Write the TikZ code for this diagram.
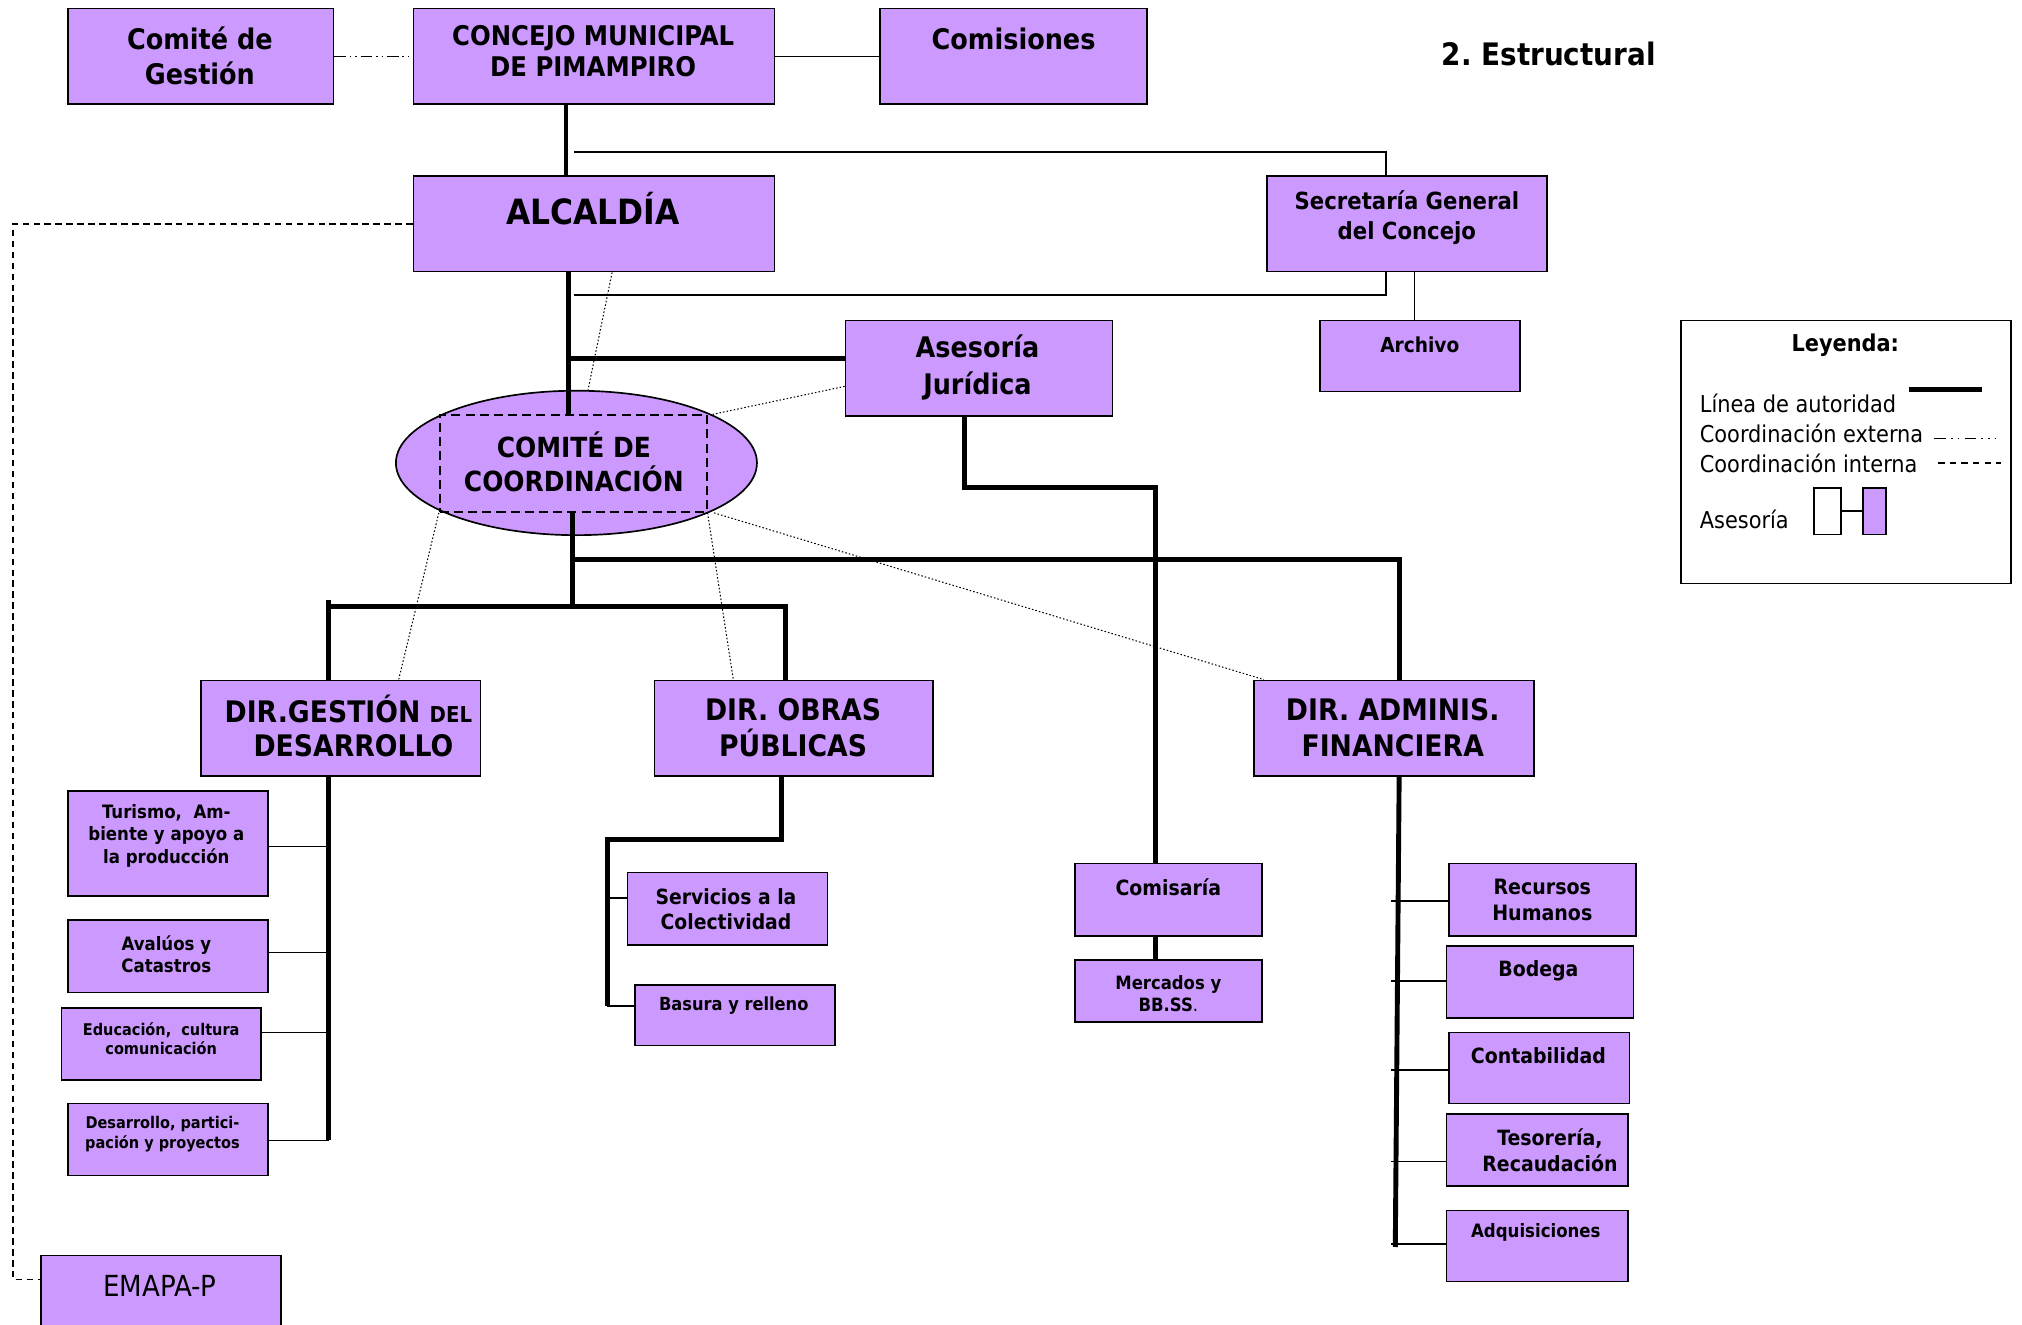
\documentclass[tikz,border=0pt]{standalone}
\usepackage{fontspec}
\IfFontExistsTF{DejaVu Sans Condensed}{\setmainfont{DejaVu Sans Condensed}}{\setmainfont{DejaVu Sans}[FakeStretch=0.9]}
\usetikzlibrary{shapes.geometric}
\definecolor{lav}{RGB}{204,153,255}
\newcommand{\fsz}[2]{\fontsize{#1}{#2}\selectfont}
\newcommand{\bx}[5]{\node[box, minimum width={(#4-#2)*1pt}, minimum height={(#5-#3)*1pt}] (#1) at (#2,#3) {};}
\frenchspacing
\tikzset{
  box/.style={draw, line width=1.3pt, fill=lav, inner sep=0pt, anchor=north west},
  txt/.style={inner sep=0pt, align=center, font=\bfseries},
  ltxt/.style={inner sep=0pt, anchor=west},
  auth/.style={line width=3.8pt},
  authm/.style={line width=3.2pt},
  thinln/.style={line width=1pt},
  secln/.style={line width=1.6pt},
  externa/.style={line width=1.2pt, dash pattern=on 9pt off 3pt on 1.2pt off 3pt on 1.2pt off 3pt},
  interna/.style={line width=1.1pt, dash pattern=on 5pt off 3.5pt},
  coordln/.style={line width=0.8pt, dash pattern=on 1.2pt off 1.6pt}
}
\begin{document}
\begin{tikzpicture}[x=1pt,y=-1pt]
\fill[white] (0,0) rectangle (1568,1027);
\useasboundingbox (0,0) rectangle (1568,1027);

% ---------- boxes ----------
\bx{gestion}{52}{6}{258}{80}
\bx{concejo}{320}{6}{600}{80}
\bx{comisiones}{682}{6}{889}{80}
\bx{alcaldia}{320}{136}{600}{210}
\bx{secretaria}{982}{136}{1199}{210}
\bx{archivo}{1023}{248}{1178}{303}
\bx{asesoria}{655}{248}{862}{322}
\node[draw, ellipse, fill=lav, line width=1.3pt, minimum width=280pt, minimum height=112pt, inner sep=0pt] (comite) at (447,359) {};
\node[draw, line width=1.4pt, dash pattern=on 7pt off 4pt, minimum width=207pt, minimum height=75pt, inner sep=0pt] (comiterect) at (444.5,359.5) {};
\bx{dirgestion}{155}{527}{372}{601}
\bx{dirobras}{507}{527}{723}{601}
\bx{diradmin}{972}{527}{1189}{601}
\bx{turismo}{52}{613}{207}{694}
\bx{avaluos}{52}{713}{207}{769}
\bx{educacion}{47}{781}{202}{837}
\bx{desarrollo}{52}{855}{207}{911}
\bx{emapa}{31}{973}{217}{1035}
\bx{servicios}{486}{676}{641}{732}
\bx{basura}{492}{763}{647}{810}
\bx{comisaria}{833}{669}{978}{725}
\bx{mercados}{833}{744}{978}{792}
\bx{recursos}{1123}{669}{1268}{725}
\bx{bodega}{1121}{733}{1266}{789}
\bx{contabilidad}{1123}{800}{1263}{855}
\bx{tesoreria}{1121}{863}{1262}{919}
\bx{adquisiciones}{1121}{938}{1262}{993}

% ---------- texts ----------
\node[txt, font=\bfseries\fsz{22}{27}] (t-gestion) at (155,43.5) {Comité de\\Gestión};
\node[txt, font=\bfseries\fsz{21}{24}] (t-concejo) at (460,40) {CONCEJO MUNICIPAL\\DE PIMAMPIRO};
\node[txt, font=\bfseries\fsz{22}{27}] (t-comisiones) at (786,30) {Comisiones};
\node[txt, font=\bfseries\fsz{24}{28}] (t-titulo) at (1201,42) {2. Estructural};
\node[txt, font=\bfseries\fsz{27}{32}] (t-alcaldia) at (460,162) {ALCALDÍA};
\node[txt, font=\bfseries\fsz{18.3}{23}] (t-secretaria) at (1091,168.5) {Secretaría General\\del Concejo};
\node[txt, font=\bfseries\fsz{16}{20}] (t-archivo) at (1101,267) {Archivo};
\node[txt, font=\bfseries\fsz{22}{28}] (t-asesoria) at (758,285) {Asesoría\\Jurídica};
\node[txt, font=\bfseries\fsz{21.5}{26}] (t-comite) at (445,358) {COMITÉ DE\\COORDINACIÓN};
\node[ltxt, font=\bfseries\fsz{23}{28}] (t-dirgestion1) at (174,550) {DIR.GESTIÓN {\fsz{17}{20}DEL}};
\node[txt, font=\bfseries\fsz{23}{28}] (t-dirgestion2) at (274,578) {DESARROLLO};
\node[txt, font=\bfseries\fsz{23}{28}] (t-dirobras) at (615,564) {DIR. OBRAS\\PÚBLICAS};
\node[txt, font=\bfseries\fsz{23}{28}] (t-diradmin) at (1080,564) {DIR. ADMINIS.\\FINANCIERA};
\node[txt, font=\bfseries\fsz{14.3}{17.5}] (t-turismo) at (129,648) {Turismo,~ Am-\\biente y apoyo a\\la producción};
\node[txt, font=\bfseries\fsz{14.3}{17}] (t-avaluos) at (129,740) {Avalúos y\\Catastros};
\node[txt, font=\bfseries\fsz{12.5}{15}] (t-educacion) at (125,805.5) {Educación,~ cultura\\comunicación};
\node[txt, font=\bfseries\fsz{12.5}{15}] (t-desarrollo) at (126,879.5) {Desarrollo, partici-\\pación y proyectos};
\node[txt, font=\fsz{22.5}{27}] (t-emapa) at (124,997) {EMAPA-P};
\node[txt, font=\bfseries\fsz{16.2}{20}] (t-servicios) at (563,705) {Servicios a la\\Colectividad};
\node[txt, font=\bfseries\fsz{14}{18}] (t-basura) at (569,780) {Basura y relleno};
\node[txt, font=\bfseries\fsz{16.3}{20}] (t-comisaria) at (906,688) {Comisaría};
\node[txt, font=\bfseries\fsz{14.2}{17}] (t-mercados) at (906,770.5) {Mercados y\\BB.SS{\mdseries .}};
\node[txt, font=\bfseries\fsz{16.4}{20}] (t-recursos) at (1196,698) {Recursos\\Humanos};
\node[txt, font=\bfseries\fsz{16.3}{20}] (t-bodega) at (1193,753) {Bodega};
\node[txt, font=\bfseries\fsz{16.3}{20}] (t-contabilidad) at (1193,819) {Contabilidad};
\node[txt, font=\bfseries\fsz{16.3}{20}] (t-tesoreria) at (1202,892) {Tesorería,\\Recaudación};
\node[txt, font=\bfseries\fsz{14.3}{18}] (t-adquisiciones) at (1191,956) {Adquisiciones};

% ---------- helper coordinates ----------
\coordinate (sp1) at (439,0);
\coordinate (sp2) at (441,0);
\coordinate (sp3) at (444,0);
\coordinate (s1) at (445,118);
\coordinate (s2) at (445,229);
\coordinate (sx) at (1075,0);
\coordinate (ax) at (1097,0);
\coordinate (ja) at (442,278);
\coordinate (jc0) at (748,0);
\coordinate (jc) at (896,378);
\coordinate (jf) at (444,434);
\coordinate (xf) at (1085,0);
\coordinate (jg) at (444,470);
\coordinate (xg) at (255,0);
\coordinate (xgt) at (255,465);
\coordinate (xo) at (609,0);
\coordinate (xo2) at (606,0);
\coordinate (jo) at (471,651);
\coordinate (jo2) at (471,780);
\coordinate (jadq) at (1082,967);
\coordinate (je) at (10,992);

% ---------- authority lines ----------
\draw[authm] (concejo.south -| sp1) -- (alcaldia.north -| sp1);
\draw[auth] (alcaldia.south -| sp2) -- (comiterect.north -| sp2);
\draw[auth] (ja) -- (ja -| asesoria.west);
\draw[auth] (asesoria.south -| jc0) |- (jc) -- (comisaria.north -| jc);
\draw[auth] (comiterect.south -| sp3) -- (jg);
\draw[auth] (jf) -| (diradmin.north -| xf);
\draw[auth] (xgt) -- (dirgestion.north -| xg);
\draw[auth] (jg -| xg) -- (jg) -| (dirobras.north -| xo);
\draw[auth] (dirgestion.south -| xg) -- (xg |- desarrollo.east);
\draw[auth] (dirobras.south -| xo2) |- (jo) -- (jo2);
\draw[auth] (comisaria.south -| jc) -- (mercados.north -| jc);
\draw[auth] (diradmin.south -| xf) -- (jadq);

% ---------- thin branches ----------
\draw[thinln] (concejo.east) -- (comisiones.west);
\draw[secln] (s1) -| (secretaria.north -| sx);
\draw[secln] (secretaria.south -| sx) |- (s2);
\draw[thinln] (secretaria.south -| ax) -- (archivo.north -| ax);
\draw[thinln] ([yshift=-2.5pt]turismo.east) -- ([yshift=-2.5pt]turismo.east -| xg);
\draw[thinln] ([yshift=3pt]avaluos.east) -- ([yshift=3pt]avaluos.east -| xg);
\draw[thinln] ([yshift=9pt]educacion.east) -- ([yshift=9pt]educacion.east -| xg);
\draw[thinln] ([yshift=-1pt]desarrollo.east) -- ([yshift=-1pt]desarrollo.east -| xg);
\draw[secln] ([yshift=8pt]servicios.west) -- ([yshift=8pt]servicios.west -| jo);
\draw[secln] (jo2) -- (jo2 -| basura.west);
\draw[thinln] ([yshift=-1pt]recursos.west) -- ++(-44pt,0);
\draw[thinln] ([yshift=1pt]bodega.west) -- ++(-42pt,0);
\draw[thinln] ([yshift=-1.5pt]contabilidad.west) -- ++(-44pt,0);
\draw[thinln] ([yshift=-9pt]tesoreria.west) -- ++(-42pt,0);
\draw[thinln] ([yshift=1.5pt]adquisiciones.west) -- ++(-42pt,0);

% ---------- coordination lines ----------
\draw[externa] (gestion.east) -- (concejo.west);
\draw[interna] (alcaldia.west) -| (je) -- (je -| emapa.west);
\draw[coordln] ([xshift=14pt]alcaldia.south) -- ([xshift=9pt]comite.north);
\draw[coordln] ([yshift=-14pt]asesoria.west) -- ([xshift=4pt]comiterect.north east);
\draw[coordln] (comiterect.south west) -- ([xshift=45pt]dirgestion.north);
\draw[coordln] (comiterect.south east) -- ([xshift=-47pt]dirobras.north);
\draw[coordln] ([xshift=5pt]comiterect.south east) -- ([xshift=8pt]diradmin.north west);

% ---------- legend ----------
\node[draw, line width=1.2pt, minimum width=256pt, minimum height=204pt, inner sep=0pt, anchor=north west] (legend) at (1303,248) {};
\node[txt, font=\bfseries\fsz{18}{22}] (l-title) at (1431,268) {Leyenda:};
\node[ltxt, font=\fsz{18}{22}] (l-aut) at (1318,313) {Línea de autoridad};
\node[ltxt, font=\fsz{18}{22}] (l-ext) at (1318,336) {Coordinación externa};
\node[ltxt, font=\fsz{18}{22}] (l-int) at (1318,359) {Coordinación interna};
\node[ltxt, font=\fsz{18}{22}] (l-ase) at (1318,403) {Asesoría};
\coordinate (la1) at (1480,302);
\coordinate (la2) at (1537,302);
\coordinate (le1) at (1500,340);
\coordinate (le2) at (1548,340);
\coordinate (li1) at (1503,359);
\coordinate (li2) at (1552,359);
\draw[auth] (la1) -- (la2);
\draw[line width=1.2pt, dash pattern=on 9pt off 4pt on 1.2pt off 4pt on 1.2pt off 4pt] (le1) -- (le2);
\draw[line width=1.1pt, dash pattern=on 5pt off 4pt] (li1) -- (li2);
\node[draw, line width=1.2pt, fill=white, minimum width=21pt, minimum height=36pt, inner sep=0pt, anchor=north west] (l-w) at (1406,378) {};
\node[draw, line width=1.2pt, fill=lav, minimum width=18pt, minimum height=36pt, inner sep=0pt, anchor=north west] (l-p) at (1444,378) {};
\draw[secln] (l-w.east) -- (l-p.west);
\end{tikzpicture}
\end{document}
